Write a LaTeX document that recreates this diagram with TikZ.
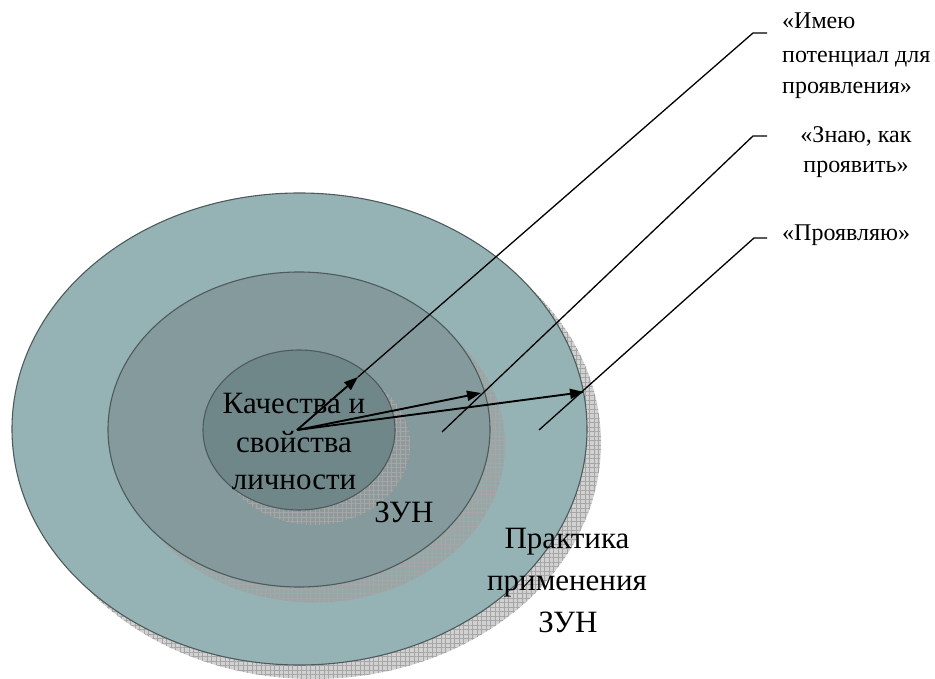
\documentclass[tikz,border=0pt]{standalone}
\usepackage{fontspec}
\setmainfont{Liberation Serif}
\usetikzlibrary{shapes.geometric,arrows.meta,patterns.meta}
\definecolor{ringout}{HTML}{95B3B5}
\definecolor{ringmid}{HTML}{849A9D}
\definecolor{ringin}{HTML}{708789}
\definecolor{ringedge}{HTML}{4E5A5B}
\tikzset{
  ring/.style={ellipse, draw=ringedge, line width=1.1pt, inner sep=0pt, outer sep=0pt},
  shadowbase/.style={fill=black!40, fill opacity=0.45},
  gridh/.style={pattern={Lines[distance=4.5pt,angle=0,line width=0.45pt]}, pattern color=black!35},
  gridv/.style={pattern={Lines[distance=4.5pt,angle=90,line width=0.45pt]}, pattern color=black!35},
  bigtext/.style={font=\fontsize{31}{37}\selectfont, inner sep=0pt, anchor=base},
  smalltext/.style={font=\fontsize{24}{30}\selectfont, inner sep=0pt, anchor=base},
  pointer/.style={line width=1.9pt, -{Triangle[length=14pt,width=10pt]}},
  leader/.style={line width=1.3pt},
}
\newcommand{\shadowell}[4]{%
  \path[shadowbase] (#1,#2) ellipse [x radius=#3pt, y radius=#4pt];
  \path[gridh] (#1,#2) ellipse [x radius=#3pt, y radius=#4pt];
  \path[gridv] (#1,#2) ellipse [x radius=#3pt, y radius=#4pt];
}
\begin{document}
\begin{tikzpicture}[x=1pt,y=-1pt]
\useasboundingbox (0,0) rectangle (935,679);
% outer
\shadowell{313.5}{443}{287.5}{236}
\node[ring, fill=ringout, minimum width=575pt, minimum height=472pt] (outer) at (299.5,429) {};
% middle
\shadowell{314}{445}{191}{157.5}
\node[ring, fill=ringmid, minimum width=382pt, minimum height=315pt] (middle) at (299,429.5) {};
% inner
\shadowell{314}{445}{96}{80}
\node[ring, fill=ringin, minimum width=192pt, minimum height=160pt] (inner) at (299,430) {};

% labels
\node[bigtext] (q1) at (294,413) {Качества и};
\node[bigtext] (q2) at (294,452) {свойства};
\node[bigtext] (q3) at (294,489) {личности};
\node[bigtext] (zun1) at (404,522) {ЗУН};
\node[bigtext] (p1) at (567,548) {Практика};
\node[bigtext] (p2) at (567,590) {применения};
\node[bigtext] (p3) at (568,632) {ЗУН};

\node[smalltext, anchor=base west] (a1) at (782,29) {«Имею};
\node[smalltext, anchor=base west] (a2) at (782,63) {потенциал для};
\node[smalltext, anchor=base west] (a3) at (782,94) {проявления»};
\node[smalltext] (b1) at (856,143) {«Знаю, как};
\node[smalltext] (b2) at (856,173) {проявить»};
\node[smalltext, anchor=base west] (c1) at (782,241) {«Проявляю»};

% arrows
\coordinate (o) at (297,430);
\coordinate (t1) at (358,377);
\coordinate (t2) at (481,393);
\coordinate (t3) at (584,392);
\draw[pointer] (o) -- (t1);
\draw[pointer] (o) -- (t2);
\draw[pointer] (o) -- (t3);

% leaders
\coordinate (k1) at (753,33);
\coordinate (e1) at (767,33);
\coordinate (s2) at (442,432);
\coordinate (k2) at (753,136);
\coordinate (e2) at (767,136);
\coordinate (s3) at (539,430);
\coordinate (k3) at (754,238);
\coordinate (e3) at (767,238);
\draw[leader] (t1) -- (k1) -- (e1);
\draw[leader] (s2) -- (k2) -- (e2);
\draw[leader] (s3) -- (k3) -- (e3);
\end{tikzpicture}
\end{document}
